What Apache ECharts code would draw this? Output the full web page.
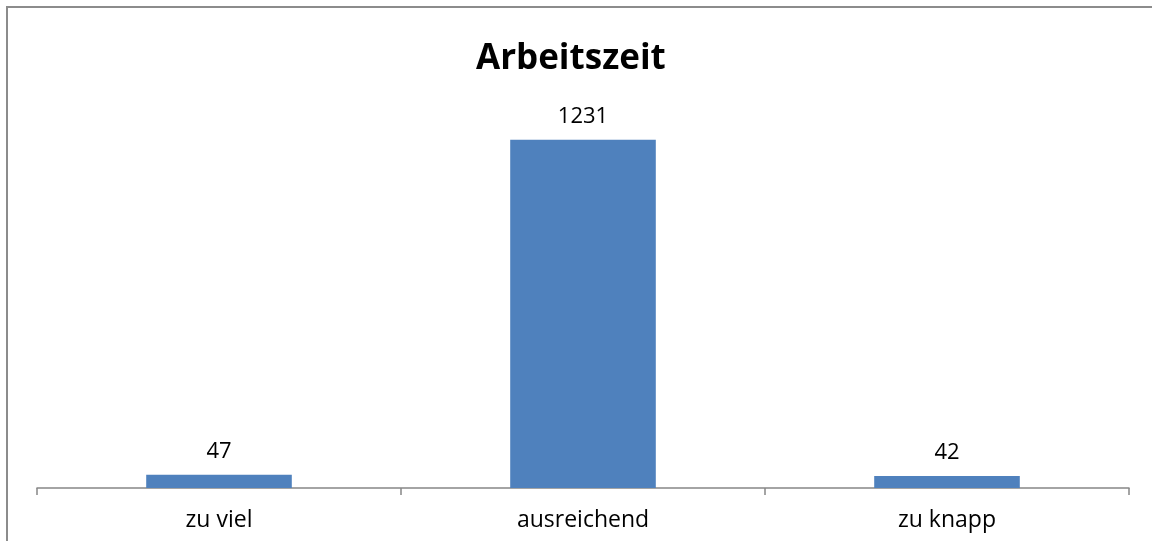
<!DOCTYPE html>
<html>
<head>
<meta charset="utf-8">
<script src="https://cdn.jsdelivr.net/npm/echarts@6/dist/echarts.min.js"></script>
<style>
  html, body { margin: 0; padding: 0; background: #fff; }
  #chart { width: 1152px; height: 541px; }
</style>
</head>
<body>
<div id="chart"></div>
<script>
// Daten
const categories = ['zu viel', 'ausreichend', 'zu knapp']
const values = [47, 1231, 42]
const titleText = 'Arbeitszeit'

const chart = echarts.init(document.getElementById('chart'))

const option = {
  animation: false,
  backgroundColor: '#fff',
  title: {
    text: titleText,
    left: 471,
    top: 37,
    textStyle: {
      fontFamily: 'Open Sans',
      fontWeight: 'bold',
      fontSize: 35,
      color: '#000'
    }
  },
  // Rahmen des Diagramms
  graphic: [
    {
      type: 'rect',
      shape: { x: 7, y: 7, width: 1160, height: 560 },
      style: { fill: 'none', stroke: '#8c8c8c', lineWidth: 2 },
      silent: true
    }
  ],
  grid: {
    left: 37,
    right: 23,
    top: 92,
    bottom: 53
  },
  xAxis: {
    type: 'category',
    data: categories,
    axisLine: { lineStyle: { color: '#868686', width: 1.5 } },
    axisTick: { show: true, length: 7, lineStyle: { color: '#868686', width: 1.5 } },
    axisLabel: {
      color: '#000',
      fontFamily: 'Open Sans',
      fontSize: 23,
      margin: 21
    }
  },
  yAxis: {
    type: 'value',
    min: 0,
    max: 1400,
    show: false,
    splitLine: { show: false }
  },
  series: [
    {
      type: 'bar',
      data: values,
      barWidth: '40%',
      itemStyle: { color: '#4f81bd' },
      label: {
        show: true,
        position: 'top',
        distance: 12,
        color: '#000',
        fontFamily: 'Open Sans',
        fontSize: 22
      }
    }
  ]
}

chart.setOption(option)
</script>
</body>
</html>
